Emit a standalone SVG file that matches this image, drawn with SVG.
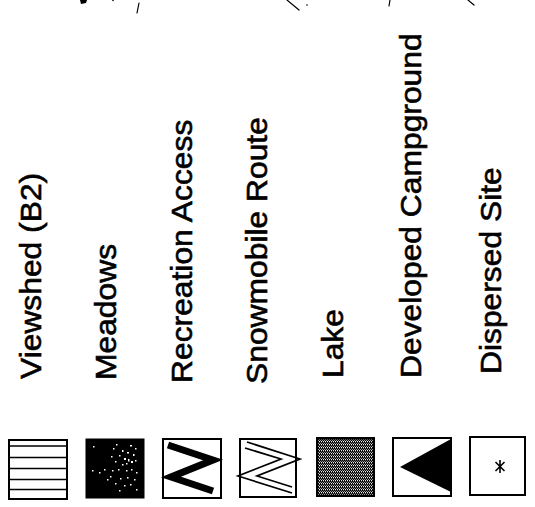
<svg xmlns="http://www.w3.org/2000/svg" width="535" height="507" viewBox="0 0 535 507">
  <defs>
    <style>
      .lbl { font-family: "Liberation Sans", Arial, Helvetica, sans-serif; font-size: 30px; fill: #000; stroke: #000; stroke-width: 0.6; }
      .box { fill: #fff; stroke: #000; stroke-width: 2; }
      .thin { fill: none; stroke: #000; stroke-width: 1.7; }
      .edge { fill: none; stroke: #000; stroke-width: 1.2; stroke-linecap: round; }
      .spk { fill: #fff; }
    </style>
    <!-- fine vertical-grain stipple for the lake swatch -->
    <pattern id="stipple" width="2" height="3" patternUnits="userSpaceOnUse">
      <rect width="2" height="3" fill="#000"/>
      <rect x="0" y="0" width="1" height="1" fill="#eee"/>
      <rect x="0" y="1" width="1" height="1" fill="#555"/>
      <rect x="1" y="2" width="1" height="1" fill="#999"/>
    </pattern>
  </defs>

  <!-- map fragments along the top edge -->
  <g id="map-edge">
    <path d="M80,0 L87,0 L86,3 L81,4 Z" fill="#000"/>
    <circle cx="113" cy="0.5" r="0.8" fill="#000"/>
    <path class="edge" d="M139,3 L137,13"/>
    <path class="edge" d="M287,0 L299,10"/>
    <circle cx="307" cy="5" r="0.8" fill="#000"/>
    <path class="edge" d="M390,0 L389,6"/>
    <path class="edge" d="M468,0 L474,5" stroke="#666"/>
  </g>

  <!-- Viewshed (B2) -->
  <g id="viewshed">
    <text class="lbl" transform="translate(41,379) rotate(-90) scale(1.06,1)">Viewshed (B2)</text>
    <g transform="translate(9,440)">
      <rect class="box" x="0" y="0" width="58" height="59"/>
      <path class="thin" d="M0,6 H58 M0,17.5 H58 M0,28.5 H58 M0,39.5 H58 M0,49.5 H58"/>
    </g>
  </g>

  <!-- Meadows -->
  <g id="meadows">
    <text class="lbl" transform="translate(116,380) rotate(-90) scale(1.06,1)">Meadows</text>
    <g transform="translate(86,439)">
      <rect x="0" y="0" width="58" height="59" fill="#000" stroke="#000" stroke-width="1"/>
      <g class="spk">
        <rect x="7" y="7" width="1.5" height="1.5"/>
        <rect x="30" y="5" width="1.5" height="1.5"/>
        <rect x="44" y="6" width="2" height="1.5"/>
        <rect x="49" y="9" width="1.5" height="1.5"/>
        <rect x="36" y="11" width="1.5" height="2"/>
        <rect x="41" y="13" width="2" height="1.5"/>
        <rect x="47" y="15" width="1.5" height="2"/>
        <rect x="33" y="16" width="1.5" height="1.5"/>
        <rect x="38" y="19" width="2" height="2"/>
        <rect x="42" y="20" width="1.5" height="2.5"/>
        <rect x="45" y="22" width="2" height="2"/>
        <rect x="49" y="21" width="1.5" height="1.5"/>
        <rect x="40" y="24" width="1.5" height="1.5"/>
        <rect x="36" y="25" width="1.5" height="1.5"/>
        <rect x="29" y="22" width="1.5" height="1.5"/>
        <rect x="25" y="17" width="1.5" height="1.5"/>
        <rect x="18" y="30" width="1.5" height="1.5"/>
        <rect x="6" y="31" width="1.5" height="1.5"/>
        <rect x="13" y="33" width="1.5" height="1.5"/>
        <rect x="26" y="31" width="1.5" height="1.5"/>
        <rect x="32" y="30" width="1.5" height="1.5"/>
        <rect x="40" y="31" width="1.5" height="1.5"/>
        <rect x="45" y="30" width="1.5" height="1.5"/>
        <rect x="50" y="33" width="1.5" height="1.5"/>
        <rect x="24" y="37" width="1.5" height="1.5"/>
        <rect x="21" y="40" width="1.5" height="1.5"/>
        <rect x="34" y="39" width="1.5" height="1.5"/>
        <rect x="41" y="38" width="1.5" height="1.5"/>
        <rect x="48" y="40" width="1.5" height="1.5"/>
        <rect x="29" y="44" width="1.5" height="1.5"/>
        <rect x="38" y="46" width="1.5" height="1.5"/>
        <rect x="44" y="45" width="1.5" height="1.5"/>
        <rect x="33" y="51" width="1.5" height="1.5"/>
        <rect x="50" y="50" width="1.5" height="1.5"/>
        <rect x="27" y="9" width="1.5" height="1.5"/>
      </g>
    </g>
  </g>

  <!-- Recreation Access -->
  <g id="recreation-access">
    <text class="lbl" transform="translate(192,383) rotate(-90) scale(1.06,1)">Recreation Access</text>
    <g transform="translate(163,439)">
      <rect class="box" x="0" y="0" width="58" height="59"/>
      <polyline points="5,6 50,21 8,38 50,52" fill="none" stroke="#000" stroke-width="7" stroke-linejoin="miter" stroke-miterlimit="8"/>
    </g>
  </g>

  <!-- Snowmobile Route -->
  <g id="snowmobile-route">
    <text class="lbl" transform="translate(267,384) rotate(-90) scale(1.06,1)">Snowmobile Route</text>
    <g transform="translate(240,439)">
      <rect class="box" x="0" y="0" width="56" height="58"/>
      <polyline class="thin" points="7,3 60,20 17,37 52,48"/>
      <polyline class="thin" points="5,9 41,20 -2,37 52,54"/>
    </g>
  </g>

  <!-- Lake -->
  <g id="lake">
    <text class="lbl" transform="translate(343,378) rotate(-90) scale(1.06,1)">Lake</text>
    <g transform="translate(317,438)">
      <rect x="0" y="0" width="57" height="58" fill="url(#stipple)" stroke="#000" stroke-width="2"/>
    </g>
  </g>

  <!-- Developed Campground -->
  <g id="developed-campground">
    <text class="lbl" transform="translate(421,378) rotate(-90) scale(1.06,1)">Developed Campground</text>
    <g transform="translate(393,438)">
      <rect class="box" x="0" y="0" width="58" height="58"/>
      <polygon points="7,29 58,1 58,54" fill="#000"/>
    </g>
  </g>

  <!-- Dispersed Site -->
  <g id="dispersed-site">
    <text class="lbl" transform="translate(501,374) rotate(-90) scale(1.06,1)">Dispersed Site</text>
    <g transform="translate(470,437)">
      <rect class="box" x="0" y="0" width="55" height="58"/>
      <path d="M30,23 V36 M25.5,25 L34.5,34 M34.5,25 L25.5,34" fill="none" stroke="#000" stroke-width="1.6"/>
    </g>
  </g>
</svg>
